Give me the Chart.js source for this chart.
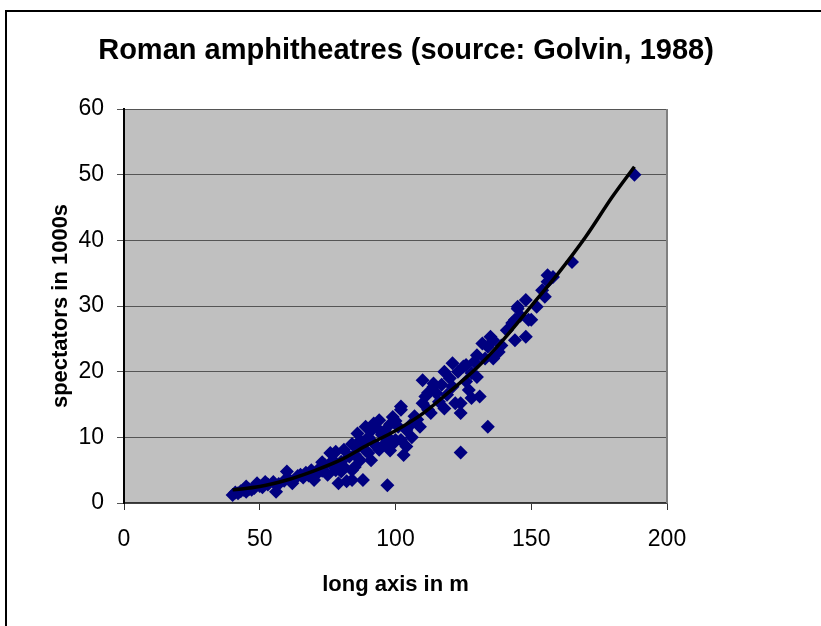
<!DOCTYPE html>
<html>
<head>
<meta charset="utf-8">
<script src="https://cdn.jsdelivr.net/npm/chart.js@4.4.0/dist/chart.umd.min.js"></script>
<style>
  html, body { margin: 0; padding: 0; background: #fff; }
</style>
</head>
<body>
<canvas id="grafico" width="821" height="626"></canvas>
<script>
var titulo = "Roman amphitheatres (source: Golvin, 1988)";
var tituloX = "long axis in m";
var tituloY = "spectators in 1000s";

// amphitheatres: long axis (m) and spectators (1000s)
var longAxis = [40, 41, 42, 43, 44, 45, 45, 46, 47, 48, 49, 50, 51, 52, 53, 55, 56, 57, 59, 60,
  61, 62, 64, 65, 66, 67, 68, 69, 70, 71, 72, 73, 73, 74, 75, 76, 77, 77, 78, 78, 79, 80,
  80, 81, 81, 82, 83, 84, 84, 84, 85, 85, 86, 86, 87, 87, 88, 88, 89, 89, 90, 90, 91, 91, 92, 92, 93, 93,
  94, 94, 95, 96, 96, 97, 97, 98, 98, 99, 99, 100, 100, 101, 102, 102, 102, 103, 104, 104, 106, 106, 107, 108, 109,
  110, 110, 111, 112, 112, 113, 114, 114, 115, 116, 117, 118, 118, 119, 120, 121, 121, 122, 123, 124, 124, 124, 125, 126, 126,
  127, 128, 128, 129, 130, 130, 131, 132, 133, 134, 134, 135, 136, 136, 138, 139, 141, 143, 144, 144, 145, 145, 146, 148,
  148, 149, 150, 152, 154, 155, 156, 156, 158, 165, 188];
var spectators = [1.2, 1.6, 1.5, 1.8, 2.0, 1.7, 2.5, 2.1, 2.0, 2.3, 3.0, 2.6, 2.4, 3.2, 2.8, 3.2, 1.7, 2.9, 3.4, 4.8,
  3.5, 3.0, 4.1, 4.3, 3.9, 4.6, 4.2, 5.0, 3.5, 4.4, 5.3, 4.9, 6.2, 5.8, 4.3, 7.6, 5.6, 6.5, 5.0, 7.8, 3.0, 4.8,
  6.3, 8.1, 5.5, 3.3, 7.1, 5.0, 3.5, 9.0, 5.5, 7.4, 10.6, 8.5, 6.5, 9.5, 3.5, 9.1, 11.6, 8.0, 7.6, 10.0, 6.5, 11.0, 12.1, 9.1, 8.6, 11.5,
  8.1, 12.6, 10.4, 11.0, 9.0, 10.1, 2.7, 12.0, 8.0, 13.1, 9.0, 9.6, 12.5, 11.6, 14.7, 14.2, 9.6, 7.3, 11.1, 8.6, 12.1, 10.0, 13.2, 12.7, 11.6,
  18.7, 15.2, 16.2, 14.2, 16.8, 13.7, 18.2, 17.7, 16.7, 15.4, 18.0, 20.0, 14.4, 16.5, 19.0, 21.3, 17.7, 15.2, 20.0, 15.2, 7.7, 13.7, 20.8, 18.5, 21.0,
  17.2, 19.8, 16.0, 21.5, 19.2, 22.5, 16.2, 24.3, 22.0, 23.8, 11.6, 25.3, 24.8, 22.0, 23.0, 24.0, 26.3, 27.4, 24.8, 27.9, 29.6, 29.9, 28.5, 25.3,
  30.9, 27.9, 27.9, 29.9, 32.4, 31.4, 33.7, 34.7, 34.4, 36.7, 50.0];

// trend line as drawn in the picture
var trendX = [40, 50, 60, 70, 80, 90, 100, 110, 120, 130, 140, 150, 160, 170, 180, 188];
var trendY = [2.0, 2.5, 3.5, 4.9, 6.6, 8.9, 11.0, 13.6, 17.0, 20.6, 25.0, 30.0, 35.0, 40.5, 46.7, 51.2];

var xMin = 0, xMax = 200, xStep = 50;
var yMin = 0, yMax = 60, yStep = 10;

var pontos = longAxis.map(function (v, i) {
  return { x: v, y: spectators[i] };
});
var tendencia = trendX.map(function (v, i) {
  return { x: v, y: trendY[i] };
});

// moldura, fundo cinza e titulo
var fundoPlugin = {
  id: "fundo",
  beforeDraw: function (chart) {
    var ctx = chart.ctx;
    var a = chart.chartArea;
    ctx.save();
    ctx.fillStyle = "#ffffff";
    ctx.fillRect(0, 0, chart.width, chart.height);
    ctx.strokeStyle = "#000000";
    ctx.lineWidth = 2;
    ctx.strokeRect(6, 11, 1000, 1000);
    ctx.fillStyle = "#c0c0c0";
    ctx.fillRect(a.left, a.top, a.right - a.left, a.bottom - a.top);
    ctx.restore();
  },
  afterDatasetsDraw: function (chart) {
    var ctx = chart.ctx;
    var a = chart.chartArea;
    ctx.save();
    ctx.strokeStyle = "#808080";
    ctx.lineWidth = 2;
    ctx.beginPath();
    ctx.moveTo(a.right, a.top);
    ctx.lineTo(a.right, a.bottom);
    ctx.stroke();
    ctx.fillStyle = "#000000";
    ctx.font = 'bold 29px "Liberation Sans", Arial, sans-serif';
    ctx.textAlign = "center";
    ctx.textBaseline = "middle";
    ctx.fillText(titulo, 406, 51);
    ctx.restore();
  },
};

var fonteTicks = { family: '"Liberation Sans", Arial, sans-serif', size: 23 };
var fonteTitulo = { family: '"Liberation Sans", Arial, sans-serif', size: 22, weight: "bold" };

new Chart(document.getElementById("grafico"), {
  type: "scatter",
  data: {
    datasets: [
      {
        type: "line",
        data: tendencia,
        borderColor: "#000000",
        borderWidth: 3.5,
        pointRadius: 0,
        fill: false,
        cubicInterpolationMode: "monotone",
        order: 0,
      },
      {
        data: pontos,
        backgroundColor: "#000080",
        borderColor: "#000080",
        borderWidth: 0,
        pointStyle: "rectRot",
        pointRadius: 7,
        order: 1,
      },
    ],
  },
  options: {
    responsive: false,
    animation: false,
    layout: { padding: { left: 0, right: 154, top: 109, bottom: 0 } },
    plugins: {
      legend: { display: false },
      tooltip: { enabled: false },
      title: { display: false },
    },
    scales: {
      x: {
        type: "linear",
        min: xMin,
        max: xMax,
        ticks: { stepSize: xStep, color: "#000", font: fonteTicks, padding: 16, maxRotation: 0 },
        grid: { drawOnChartArea: false, drawTicks: true, tickLength: 7, color: "#333" },
        border: { color: "#333", width: 1.5 },
        title: { display: true, text: tituloX, color: "#000", font: fonteTitulo, padding: { top: 0, bottom: 28 } },
        afterFit: function (scale) {
          scale.height = 123;
        },
      },
      y: {
        type: "linear",
        min: yMin,
        max: yMax,
        ticks: { stepSize: yStep, color: "#000", font: fonteTicks, padding: 13 },
        grid: { color: "#555", lineWidth: 1, tickLength: 7 },
        border: { color: "#000", width: 2 },
        title: { display: true, text: tituloY, color: "#000", font: fonteTitulo, padding: { top: 48, bottom: 0 } },
        afterFit: function (scale) {
          scale.width = 124;
        },
      },
    },
  },
  plugins: [fundoPlugin],
});
</script>
</body>
</html>
